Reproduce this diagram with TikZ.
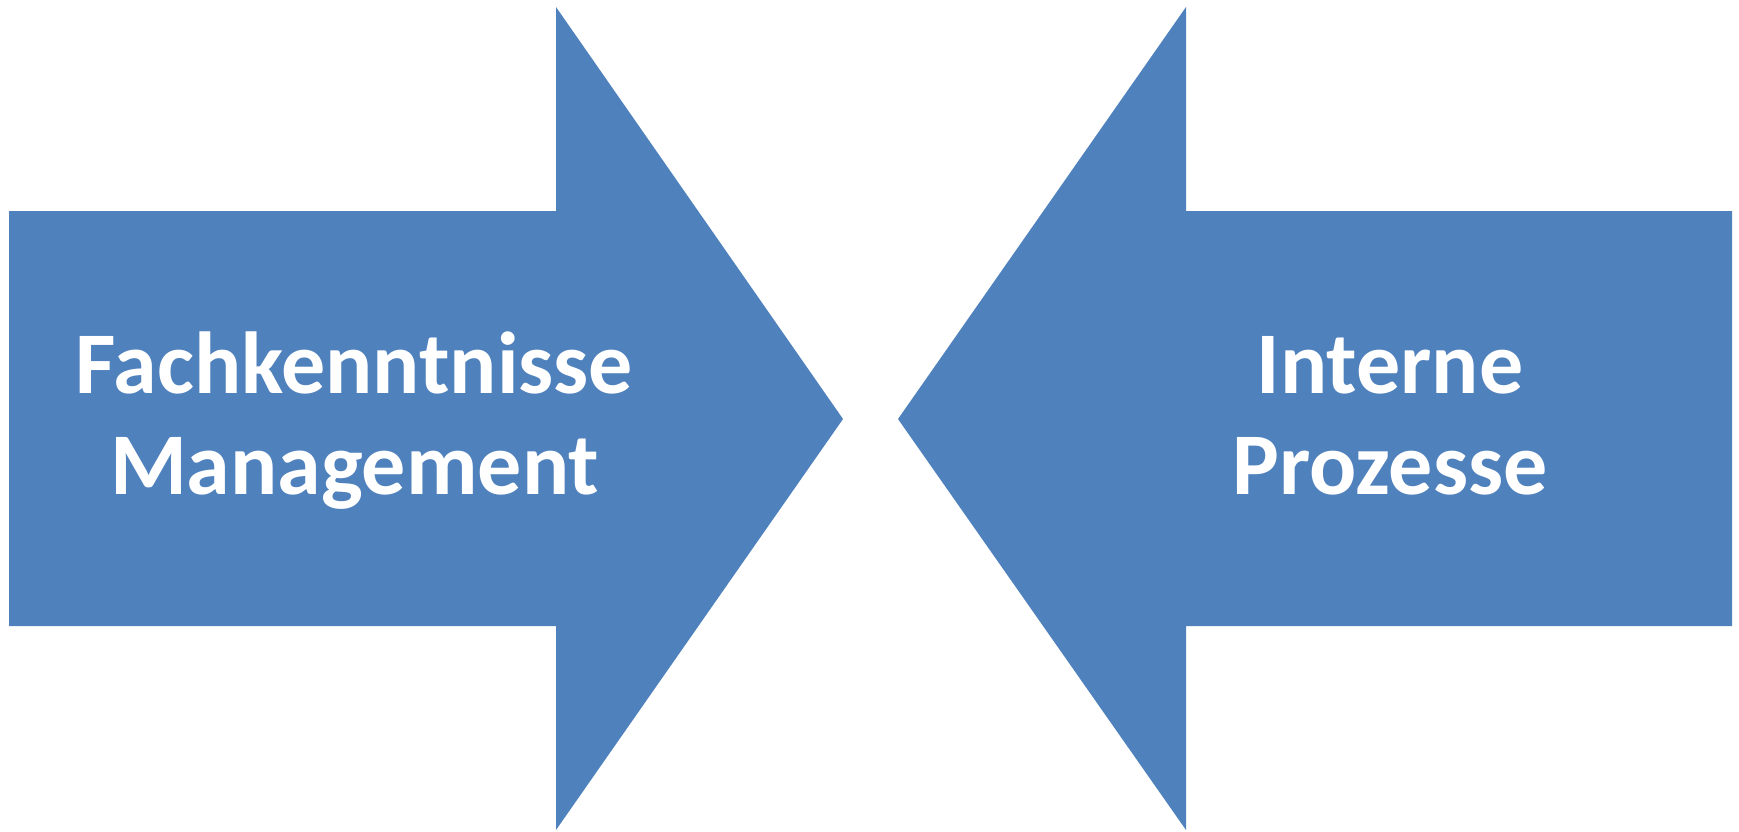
\documentclass[tikz,border=0pt]{standalone}
\usepackage{fontspec}
\setmainfont{Carlito}
\definecolor{arrowblue}{HTML}{4F81BD}
\begin{document}
\begin{tikzpicture}[x=1pt, y=-1pt]
            \useasboundingbox (0,0) rectangle (1739,831);

            % Draw the arrow from the left
            \fill[arrowblue] (9,211) -- (556,211) -- (556,7) -- (843,419)
                -- (556,830) -- (556,626) -- (9,626) -- cycle;

            % Draw the arrow from the right
            \fill[arrowblue] (1732,211) -- (1186,211) -- (1186,7) -- (898,419)
                -- (1186,830) -- (1186,626) -- (1732,626) -- cycle;

            % Draw labels of the left arrow
            \node[anchor=base, text=white, font=\fontsize{88}{100}\selectfont\bfseries] (fach) at (354.5, 393) {Fachkenntnisse};
            \node[anchor=base, text=white, font=\fontsize{88}{100}\selectfont\bfseries] (mgmt) at (354.5, 494) {Management};

            % Draw labels of the right arrow
            \node[anchor=base, text=white, font=\fontsize{88}{100}\selectfont\bfseries] (intern) at (1390, 393) {Interne};
            \node[anchor=base, text=white, font=\fontsize{88}{100}\selectfont\bfseries] (proz) at (1390, 494) {Prozesse};

        \end{tikzpicture}
\end{document}
